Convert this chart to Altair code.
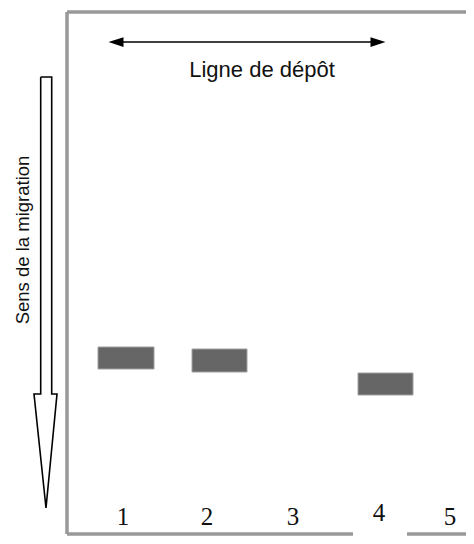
import altair as alt
import pandas as pd

# ---- data (gel schematic, coordinates in gel units) ----
lane_labels = ["1", "2", "3", "4", "5"]
lane_label_x = [123, 207, 293, 379, 450]
lane_label_y = [525, 525, 525, 521, 525]

band_lane = ["1", "2", "4"]
band_x0 = [98, 192, 358]
band_x1 = [154, 247, 413]
band_y0 = [347, 349, 373]
band_y1 = [369, 372, 395]

# frame of the gel (left, top, bottom-left, bottom-right)
frame_x0 = [67, 67, 67, 407]
frame_x1 = [67, 480, 353, 480]
frame_y0 = [12, 12, 534, 534]
frame_y1 = [534, 12, 534, 534]

# deposit line (double arrow)
depot_x = [116, 378]
depot_y = [42, 42]

# migration arrow outline
mig_x = [40.7, 51.7, 51.7, 57, 46, 34, 40.7, 40.7]
mig_y = [77, 77, 394, 394, 508, 394, 394, 77]

xs = alt.Scale(domain=[8, 466], nice=False, zero=False)
ys = alt.Scale(domain=[8, 536], nice=False, zero=False, reverse=True)

frame_df = pd.DataFrame({"x": frame_x0, "x2": frame_x1, "y": frame_y0, "y2": frame_y1})
frame = alt.Chart(frame_df).mark_rule(color="#999999", strokeWidth=3.5, clip=True).encode(
    x=alt.X("x:Q", scale=xs, axis=None), x2="x2:Q",
    y=alt.Y("y:Q", scale=ys, axis=None), y2="y2:Q",
)

depot_df = pd.DataFrame({"x": [depot_x[0]], "x2": [depot_x[1]], "y": [depot_y[0]]})
depot_line = alt.Chart(depot_df).mark_rule(color="black", strokeWidth=1.6).encode(
    x=alt.X("x:Q", scale=xs, axis=None), x2="x2:Q",
    y=alt.Y("y:Q", scale=ys, axis=None),
)
heads_df = pd.DataFrame({"x": depot_x, "y": depot_y,
                         "shape": ["M -1 0 L 1 -0.65 L 1 0.65 Z", "M 1 0 L -1 -0.65 L -1 0.65 Z"]})
heads = alt.Chart(heads_df).mark_point(filled=True, color="black", size=225, opacity=1).encode(
    x=alt.X("x:Q", scale=xs, axis=None),
    y=alt.Y("y:Q", scale=ys, axis=None),
    shape=alt.Shape("shape:N", scale=None, legend=None),
)

depot_text = alt.Chart(pd.DataFrame({"x": [262], "y": [77], "t": ["Ligne de dépôt"]})).mark_text(
    font="Liberation Sans", fontSize=22, align="center", baseline="alphabetic", color="#111111"
).encode(x=alt.X("x:Q", scale=xs, axis=None), y=alt.Y("y:Q", scale=ys, axis=None), text="t:N")

mig_df = pd.DataFrame({"x": mig_x, "y": mig_y, "o": list(range(len(mig_x)))})
mig = alt.Chart(mig_df).mark_line(color="black", strokeWidth=1.6, strokeJoin="miter").encode(
    x=alt.X("x:Q", scale=xs, axis=None),
    y=alt.Y("y:Q", scale=ys, axis=None),
    order="o:Q",
)

mig_text = alt.Chart(pd.DataFrame({"x": [23], "y": [240], "t": ["Sens de la migration"]})).mark_text(
    font="Liberation Sans", fontSize=18.5, align="center", baseline="middle", angle=270, color="#111111"
).encode(x=alt.X("x:Q", scale=xs, axis=None), y=alt.Y("y:Q", scale=ys, axis=None), text="t:N")

band_df = pd.DataFrame({"lane": band_lane, "x": band_x0, "x2": band_x1, "y": band_y0, "y2": band_y1})
bands = alt.Chart(band_df).mark_rect(color="#666666", stroke="#a0a0a0", strokeWidth=1).encode(
    x=alt.X("x:Q", scale=xs, axis=None), x2="x2:Q",
    y=alt.Y("y:Q", scale=ys, axis=None), y2="y2:Q",
)

lab_df = pd.DataFrame({"t": lane_labels, "x": lane_label_x, "y": lane_label_y})
labels = alt.Chart(lab_df).mark_text(
    font="Liberation Serif", fontSize=25, align="center", baseline="alphabetic", color="#111111"
).encode(x=alt.X("x:Q", scale=xs, axis=None), y=alt.Y("y:Q", scale=ys, axis=None), text="t:N")

chart = alt.layer(frame, depot_line, heads, depot_text, mig, mig_text, bands, labels).properties(
    width=458, height=528, padding=0, autosize=alt.AutoSizeParams(type="none"),
    background="white",
).configure_view(stroke=None)

chart.save("out.html", embed_options={"renderer": "svg", "actions": False})
